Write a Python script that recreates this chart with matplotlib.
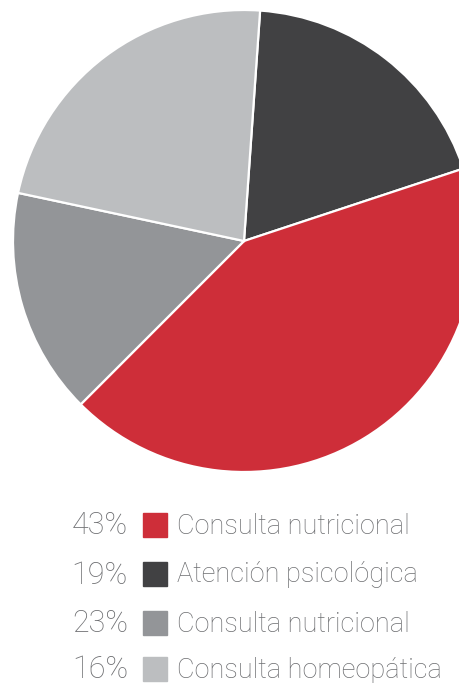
import matplotlib.pyplot as plt
from matplotlib.patches import Rectangle

# slices drawn clockwise, starting near the top
pie_values = [19, 43, 16, 23]
pie_colors = ['#414143', '#CE2E39', '#939598', '#BCBEC0']

# legend rows
legend_pct = ['43%', '19%', '23%', '16%']
legend_labels = ['Consulta nutricional', 'Atención psicológica',
                 'Consulta nutricional', 'Consulta homeopática']
legend_colors = ['#CE2E39', '#414143', '#939598', '#BCBEC0']

W, H = 460, 683
fig = plt.figure(figsize=(W / 100, H / 100), dpi=100)

# pie: center (244, 241) px, radius 231 px
cx, cy, r = 244, 241, 231
ax = fig.add_axes([(cx - r) / W, (H - cy - r) / H, 2 * r / W, 2 * r / H])
ax.pie(pie_values, colors=pie_colors, startangle=86, counterclock=False,
       radius=1, wedgeprops=dict(edgecolor='white', linewidth=1.6))
ax.set_xlim(-1, 1)
ax.set_ylim(-1, 1)
ax.set_aspect('equal')
ax.axis('off')

# legend in pixel coordinates
lax = fig.add_axes([0, 0, 1, 1])
lax.set_xlim(0, W)
lax.set_ylim(H, 0)
lax.axis('off')

row_y = [525, 574, 623, 669]
txt_color = '#6D6E71'
for y, pct, lab, col in zip(row_y, legend_pct, legend_labels, legend_colors):
    lax.add_patch(Rectangle((143, y - 12), 24, 24, color=col))
    lax.text(128, y + 1, pct, ha='right', va='center', fontsize=22,
             family='Roboto', fontweight='light', color=txt_color)
    lax.text(177, y + 1, lab, ha='left', va='center', fontsize=19.5,
             family='Roboto', fontweight='light', color=txt_color)

fig.savefig('out.png', dpi=100)
